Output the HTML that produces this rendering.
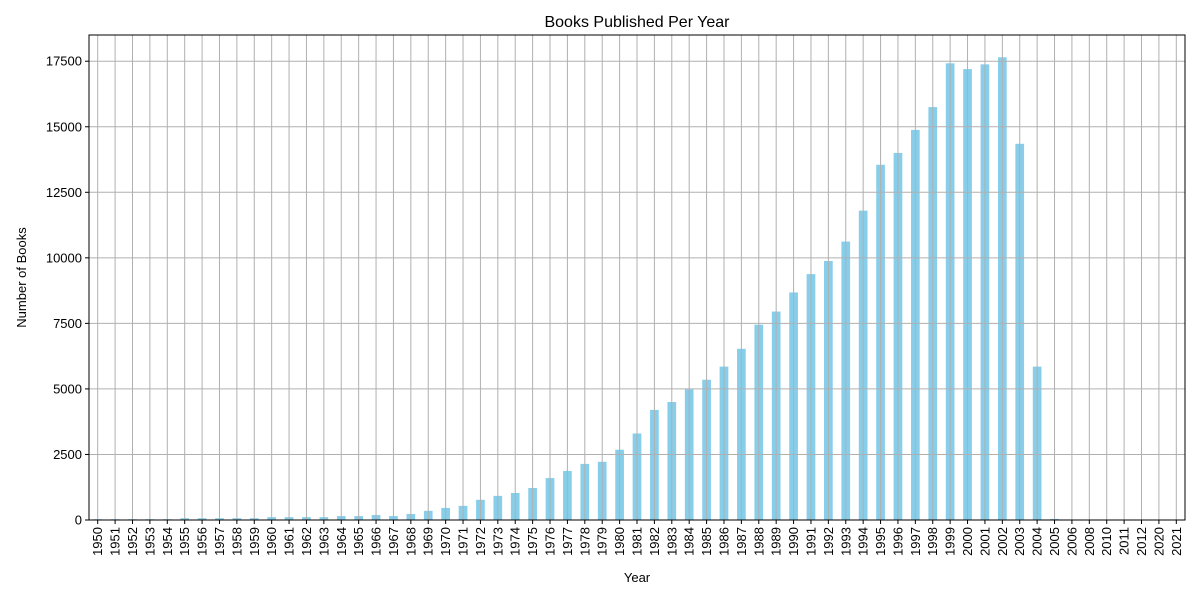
<!DOCTYPE html>
<html><head><meta charset="utf-8"><style>
body{margin:0;background:#fff;font-family:"Liberation Sans",sans-serif;}
</style></head><body>
<svg id="c" width="1200" height="600" xmlns="http://www.w3.org/2000/svg"></svg>
<script>
const years=["1950","1951","1952","1953","1954","1955","1956","1957","1958","1959","1960","1961","1962","1963","1964","1965","1966","1967","1968","1969","1970","1971","1972","1973","1974","1975","1976","1977","1978","1979","1980","1981","1982","1983","1984","1985","1986","1987","1988","1989","1990","1991","1992","1993","1994","1995","1996","1997","1998","1999","2000","2001","2002","2003","2004","2005","2006","2008","2010","2011","2012","2020","2021"];
const counts=[30,30,30,30,30,70,70,70,70,70,110,110,110,110,150,150,190,150,230,350,460,540,770,920,1030,1220,1600,1870,2140,2220,2680,3300,4200,4500,4980,5350,5850,6530,7450,7950,8680,9380,9880,10620,11800,13550,14000,14880,15750,17420,17200,17380,17650,14350,5850,40,2,2,2,2,2,2,2];
const yTicks=[0,2500,5000,7500,10000,12500,15000,17500];
const svg=document.getElementById('c');
const NS="http://www.w3.org/2000/svg";
const L=89,R=1185,T=35,B=520;
const n=years.length, step=(R-L)/n;
const yMax=18500;
const xs=i=>L+step*(i+0.5);
const ys=v=>B-(v/yMax)*(B-T);
function mk(t,a,txt){const e=document.createElementNS(NS,t);for(const k in a)e.setAttribute(k,a[k]);if(txt!==undefined)e.textContent=txt;svg.appendChild(e);return e;}
counts.forEach((v,i)=>{
 const r=mk('rect',{x:xs(i)-step*0.25,y:ys(v),width:step*0.5,height:B-ys(v),fill:'#87ceeb'});
 
 
});
yTicks.forEach(t=>{
 const g=mk('line',{x1:L,x2:R,y1:ys(t),y2:ys(t),stroke:'#b0b0b0','stroke-width':1});
 
 
 mk('line',{x1:L-4,x2:L,y1:ys(t),y2:ys(t),stroke:'#000'});
 const tx=mk('text',{x:L-7,y:ys(t)+4.5,'text-anchor':'end','font-size':13},t);
 
 
});
years.forEach((y,i)=>{
 const g=mk('line',{x1:xs(i),x2:xs(i),y1:T,y2:B,stroke:'#b0b0b0','stroke-width':1});
 
 
 mk('line',{x1:xs(i),x2:xs(i),y1:B,y2:B+4,stroke:'#000'});
 const tx=mk('text',{transform:`translate(${xs(i)+4.5},${B+7}) rotate(-90)`,'text-anchor':'end','font-size':13},y);
 
 
});
const f=mk('rect',{x:L,y:T,width:R-L,height:B-T,fill:'none',stroke:'#000','stroke-width':1});


const ti=mk('text',{x:(L+R)/2,y:27,'text-anchor':'middle','font-size':16},'Books Published Per Year');


const xl=mk('text',{x:(L+R)/2,y:582,'text-anchor':'middle','font-size':13},'Year');


const yl=mk('text',{transform:`translate(26,${(T+B)/2}) rotate(-90)`,'text-anchor':'middle','font-size':13},'Number of Books');


</script>
</body></html>
